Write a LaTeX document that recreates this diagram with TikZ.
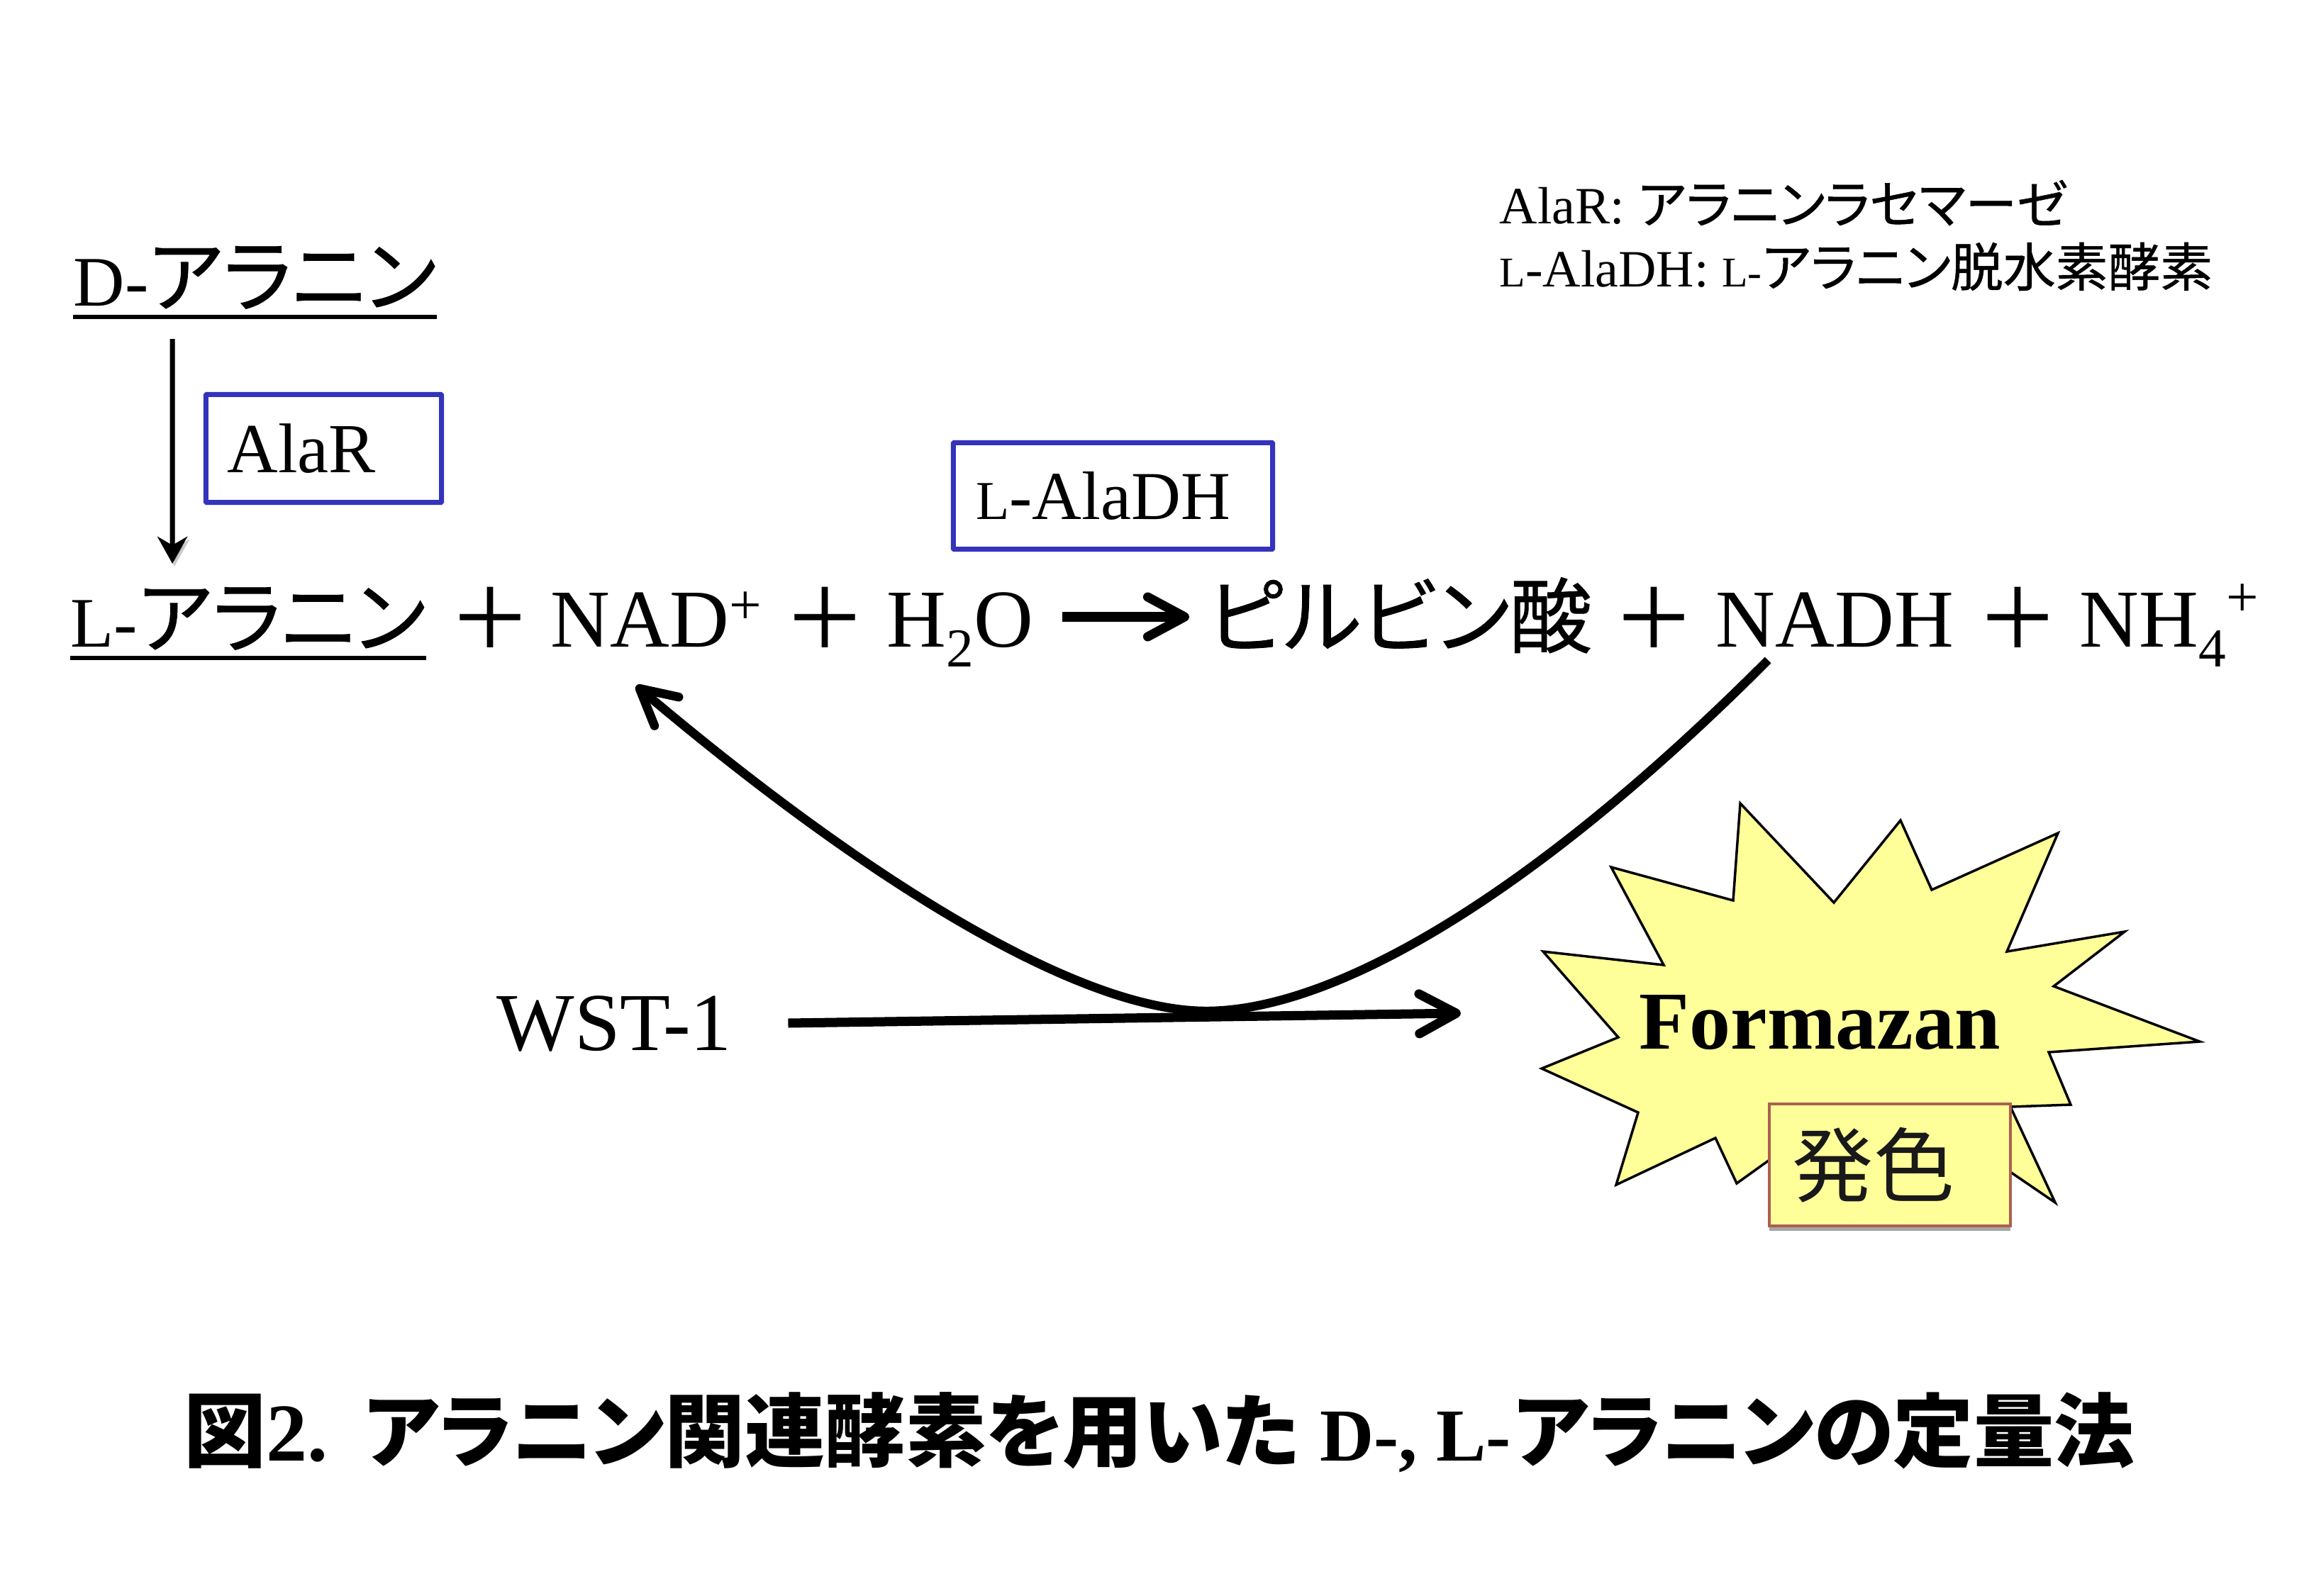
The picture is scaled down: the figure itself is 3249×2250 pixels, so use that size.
\documentclass[tikz,border=0pt]{standalone}
\usepackage{fontspec}
\setmainfont{Liberation Serif}
\newfontfamily\jp[RawFeature=+palt,UprightFeatures={FakeBold=0.7}]{Noto Sans CJK JP}
\newfontfamily\jplight{Noto Sans CJK JP}
\usetikzlibrary{positioning,arrows.meta,shadows}
\definecolor{enzblue}{RGB}{51,51,187}
\definecolor{burstyellow}{RGB}{255,255,153}
\definecolor{labelbrown}{RGB}{170,96,80}
\newcommand{\lowdigit}[1]{\raisebox{-8pt}{\fontsize{22}{22}\selectfont #1}}
\newcommand{\highplus}[1]{\raisebox{#1}{\fontsize{23}{23}\selectfont +}}
\newcommand{\capsize}[2]{{\fontsize{#1}{#1}\selectfont #2}}
\tikzset{
  term/.style={inner sep=0pt,anchor=base west,font=\fontsize{33}{36}\selectfont},
  legend/.style={term,font=\fontsize{21}{24}\selectfont},
  plussign/.style={inner sep=0pt,font=\fontsize{33}{36}\selectfont\jp},
  enzbox/.style={draw=enzblue,line width=.07cm,rounded corners=.01cm,align=left,inner ysep=0pt,font=\fontsize{28.2}{30}\selectfont},
  uline/.style={line width=.054cm},
  softshadow/.style={preaction={draw=black!45,opacity=.45,transform canvas={xshift=.03cm,yshift=-.04cm}}},
  thinarrow/.style={line width=.07cm,-{Stealth[length=.38cm,width=.42cm,inset=.12cm]},softshadow},
  fatarrow/.style={line width=.13cm,-{Straight Barb[length=.52cm,width=.56cm,round]},softshadow},
  bentarrow/.style={line width=.125cm,-{Straight Barb[length=.5cm,width=.53cm,round]},softshadow},
}
\begin{document}
\begin{tikzpicture}[x=.01cm,y=-.01cm]
  \useasboundingbox (0,0) rectangle (3249,2250);

  \node[legend] (legalar) at (2114,315) {AlaR: {\fontsize{20.8}{24}\selectfont\jp アラニンラセマーゼ}};
  \node[legend] (legdh) at (2114,404) {\capsize{17}{L}-AlaDH: \capsize{17}{L-}{\jp アラニン脱水素酵素}};

  \node[term] (dala) at (103,431) {\capsize{28.5}{D-}{\fontsize{32}{36}\selectfont\jp アラニン}};
  \node[term] (lala) at (99,912) {\capsize{28.5}{L-}{\fontsize{32}{36}\selectfont\jp アラニン}};
  \draw[uline] ([yshift=-.16cm]dala.base west) -- ([yshift=-.16cm]dala.base east);
  \draw[uline] ([yshift=-.16cm]lala.base west) -- ([yshift=-.16cm]lala.base east);

  \node[plussign] (plusa) at (691,871) {＋};
  \node[term] (nad) at (776,912) {NAD\highplus{9pt}};
  \node[plussign] (plusb) at (1163,871) {＋};
  \node[term] (water) at (1250,912) {H\lowdigit{2}O};
  \node[term] (pyr) at (1702,912) {\jp ピルビン酸};
  \node[plussign] (plusc) at (2332,871) {＋};
  \node[term] (nadh) at (2419,912) {NADH};
  \node[plussign] (plusd) at (2845,871) {＋};
  \node[term] (nhf) at (2932,912) {NH\lowdigit{4}\highplus{12pt}};

  \node[enzbox,minimum width=3.32cm,minimum height=1.52cm,text width=2.72cm,inner xsep=.3cm] (alar) at (456.5,632.5) {AlaR};
  \node[enzbox,minimum width=4.5cm,minimum height=1.5cm,text width=3.86cm,inner xsep=.32cm,font=\fontsize{27.5}{30}\selectfont] (aladh) at (1569.5,699.5) {\capsize{22}{L}-AlaDH};

  \draw[thinarrow] ([xshift=1.4cm,yshift=-.47cm]dala.base west) -- ([xshift=1.44cm,yshift=1.17cm]lala.base west);
  \draw[fatarrow] ([xshift=.4cm,yshift=.42cm]water.base east) -- ([xshift=-.25cm,yshift=.42cm]pyr.base west);

  \node[term] (wst) at (700,1481) {WST-1};

  \draw[fill=burstyellow,line width=.035cm] (2454,1133) -- (2586,1273) -- (2680,1157) -- (2724,1255) -- (2902,1175) -- (2830,1342) -- (2996,1314) -- (2896,1391) -- (3102,1469) -- (2889,1484) -- (2920,1558) -- (2835,1561) -- (2898,1696) -- (2835,1653) -- (2495,1636) -- (2449,1669) -- (2419,1605) -- (2279,1671) -- (2310,1569) -- (2174,1507) -- (2282,1463) -- (2176,1342) -- (2346,1361) -- (2272,1223) -- (2444,1270) -- cycle;
  \node[term,font=\fontsize{33}{36}\selectfont\bfseries] (form) at (2311,1479) {Formazan};

  \draw[fatarrow] ([xshift=.79cm,yshift=.38cm]wst.base east) -- ([xshift=-2.51cm,yshift=.5cm]form.base west);
  \draw[bentarrow] ([xshift=.74cm,yshift=-.19cm]nadh.base west) .. controls (2160,1265) and (1880,1426) .. (1701,1426) .. controls (1520,1426) and (1220,1240) .. ([xshift=1.21cm,yshift=-.55cm]nad.base west);

  \node[draw=labelbrown,fill=burstyellow,line width=.04cm,minimum width=3.4cm,minimum height=1.72cm,inner ysep=0pt,inner xsep=.33cm,text width=2.74cm,align=left,font=\fontsize{32.5}{36}\selectfont\jplight,text=black!90,drop shadow={shadow xshift=0cm,shadow yshift=-.07cm,fill=black!35,opacity=1}] (color) at (2665,1643) {発色};

  \node[term,font=\fontsize{33}{36}\selectfont\bfseries] (title) at (259,2060) {{\jp 図}2.\hspace{.51cm}{\fontsize{32.2}{36}\selectfont\jp アラニン関連酵素を用いた} \capsize{30}{D-, L-}\hspace{.04cm}{\fontsize{32.2}{36}\selectfont\jp アラニンの定量法}};
\end{tikzpicture}
\end{document}
